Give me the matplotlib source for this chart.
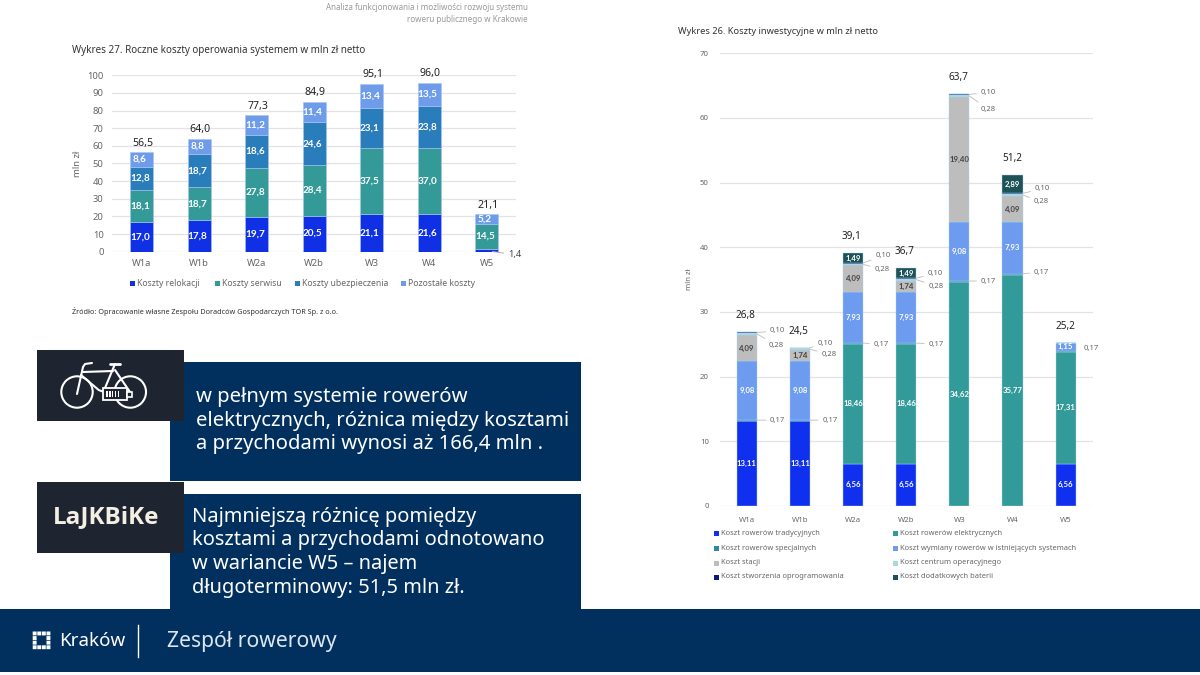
import matplotlib
matplotlib.use("Agg")
import matplotlib.pyplot as plt
import numpy as np
from matplotlib.patches import Rectangle, Circle

plt.rcParams['font.family'] = ['Noto Sans', 'DejaVu Sans']

W, H = 1200, 675

# 1. Operating costs (left chart)
variants = ['W1a', 'W1b', 'W2a', 'W2b', 'W3', 'W4', 'W5']
relokacja = [17.0, 17.8, 19.7, 20.5, 21.1, 21.6, 1.4]
serwis = [18.1, 18.7, 27.8, 28.4, 37.5, 37.0, 14.5]
ubezpieczenie = [12.8, 18.7, 18.6, 24.6, 23.1, 23.8, 0]
pozostale = [8.6, 8.8, 11.2, 11.4, 13.4, 13.5, 5.2]
oper_totals = ['56,5', '64,0', '77,3', '84,9', '95,1', '96,0', '21,1']
oper_names = ['Koszty relokacji', 'Koszty serwisu', 'Koszty ubezpieczenia', 'Pozostałe koszty']
oper_colors = ['#1030E6', '#339A98', '#2A7DBB', '#6E9CEB']

# 2. Investment costs (right chart)
tradycyjne = [13.11, 13.11, 6.56, 6.56, 0, 0, 6.56]
elektryczne = [0, 0, 18.46, 18.46, 34.62, 35.77, 17.31]
specjalne = [0.17, 0.17, 0.17, 0.17, 0.17, 0.17, 0.17]
wymiana = [9.08, 9.08, 7.93, 7.93, 9.08, 7.93, 1.15]
stacje = [4.09, 1.74, 4.09, 1.74, 19.40, 4.09, 0]
centrum = [0.28, 0.28, 0.28, 0.28, 0.28, 0.28, 0]
oprogramowanie = [0.10, 0.10, 0.10, 0.10, 0.10, 0.10, 0]
baterie = [0, 0, 1.49, 1.49, 0, 2.89, 0]
inv_totals = ['26,8', '24,5', '39,1', '36,7', '63,7', '51,2', '25,2']
inv_names = ['Koszt rowerów tradycyjnych', 'Koszt rowerów elektrycznych',
             'Koszt rowerów specjalnych', 'Koszt wymiany rowerów w istniejących systemach',
             'Koszt stacji', 'Koszt centrum operacyjnego',
             'Koszt stworzenia oprogramowania', 'Koszt dodatkowych baterii']
inv_colors = ['#1030F0', '#339A9A', '#2E86AB', '#6C9BEF', '#BDBDBD', '#A8DADC', '#0B1A78', '#1D5257']

fig = plt.figure(figsize=(W / 100, H / 100), dpi=100, facecolor='white')


def px_axes(left, top, right, bottom):
    return fig.add_axes([left / W, 1 - bottom / H, (right - left) / W, (bottom - top) / H])


def num(v):
    return f'{v:.2f}'.replace('.', ',')


# 3. Left chart
ax1 = px_axes(112, 75.3, 516, 251.7)
ax1.set_xlim(-0.517, 6.51)
ax1.set_ylim(0, 100)
bottom = np.zeros(7)
x = np.arange(7)
for vals, col in zip([relokacja, serwis, ubezpieczenie, pozostale], oper_colors):
    vals = np.array(vals)
    ax1.bar(x, vals, 0.405, bottom=bottom, color=col, zorder=3, edgecolor='#A9C4F0', linewidth=0.4)
    for i, v in enumerate(vals):
        if v >= 5:
            ax1.text(i - 0.03, bottom[i] + v / 2, f'{v:.1f}'.replace('.', ','), color='white',
                     fontsize=7.2, fontweight='bold', family='Lato', ha='center', va='center', zorder=4)
    bottom += vals
for i, t in enumerate(oper_totals):
    ax1.text(i + 0.02, bottom[i] + 2.0, t, fontsize=7.6, color='#222222', ha='center', va='bottom', zorder=4)
ax1.annotate('1,4', xy=(6.1, 0.1), xytext=(6.37, -1.7), fontsize=6.6, color='#444444', va='center', ha='left',
             annotation_clip=False, arrowprops=dict(arrowstyle='-', color='#C9A8C8', lw=0.7, shrinkA=1, shrinkB=0))
ax1.set_yticks(range(0, 101, 10))
ax1.set_xticks(x, variants)
ax1.tick_params(length=0, labelsize=6.8, labelcolor='#666666', pad=6)
ax1.tick_params(axis='x', pad=5)
ax1.grid(axis='y', color='#E3E3E6', lw=0.9, zorder=0)
ax1.set_axisbelow(True)
for s in ax1.spines.values():
    s.set_visible(False)
ax1.set_ylabel('mln zł', fontsize=6.8, color='#666666', labelpad=4)

# 4. Right chart
ax2 = px_axes(720, 53.3, 1092.7, 506)
ax2.set_xlim(-0.508, 6.51)
ax2.set_ylim(0, 70)
series = [tradycyjne, elektryczne, specjalne, wymiana, stacje, centrum, oprogramowanie, baterie]
bottom = np.zeros(7)
tops = {}
for k, (vals, col) in enumerate(zip(series, inv_colors)):
    vals = np.array(vals)
    ax2.bar(x, vals, 0.377, bottom=bottom, color=col, zorder=3, edgecolor='#A8D4EE', linewidth=0.3)
    tops[k] = bottom + vals
    for i, v in enumerate(vals):
        if v > 1:
            col_txt = '#444444' if k == 4 else 'white'
            ax2.text(i, bottom[i] + v / 2, num(v), color=col_txt, fontsize=5.6, fontweight='bold', family='Lato',
                     ha='center', va='center', zorder=4)
    bottom += vals
for i, t in enumerate(inv_totals):
    ax2.text(i - 0.03 + (0.02 if i > 3 else 0), bottom[i] + 1.7, t, fontsize=7.2, color='#222222',
             ha='center', va='bottom', zorder=4)

# small leader labels: offset from the bar edge in pixels (dx, dy)
off_010 = [(13, 1.5), (7, 4), (12, 7), (11, 4.5), (11, 2), (12, 4.5)]
off_028 = [(12, -11), (11, -5), (11, -4.7), (12, -6.5), (11, -13.3), (11, -7)]
off_017 = [(13, 0), (12, 0), (10, -1), (12, -1), (11, 0), (11, 1)]


def leader(i, y, dxdy, text):
    ax2.annotate(text, xy=(i + 0.19, y), xytext=(dxdy[0] * 0.72, dxdy[1] * 0.72), textcoords='offset points',
                 fontsize=5.5, color='#666666', ha='left', va='center', annotation_clip=False, zorder=5,
                 arrowprops=dict(arrowstyle='-', color='#BBBBBB', lw=0.6, shrinkA=1, shrinkB=0))


for i in range(6):
    leader(i, tops[6][i], off_010[i], num(oprogramowanie[i]))
    leader(i, tops[5][i] - centrum[i] / 2, off_028[i], num(centrum[i]))
    leader(i, tops[2][i], off_017[i], num(specjalne[i]))
ax2.text(6.34, tops[3][6] - 0.9, num(specjalne[6]), fontsize=5.5, color='#666666', va='center', zorder=5)

ax2.set_yticks(range(0, 71, 10))
ax2.set_xticks(x, variants)
ax2.tick_params(length=0, labelsize=5.6, labelcolor='#666666', pad=8)
ax2.grid(axis='y', color='#E3E3E6', lw=0.9, zorder=0)
ax2.set_axisbelow(True)
for s in ax2.spines.values():
    s.set_visible(False)
ax2.set_ylabel('mln zł', fontsize=5.6, color='#666666', labelpad=5)

# 5. Overlay in pixels for the slide furniture
ov = fig.add_axes([0, 0, 1, 1], zorder=10)
ov.set_xlim(0, W)
ov.set_ylim(H, 0)
ov.axis('off')

navy = '#02305E'
dark = '#1E2430'
cream = '#F3EFE2'
ov.add_patch(Rectangle((170, 362), 411, 119, color=navy, lw=0))
ov.add_patch(Rectangle((170, 494), 411, 116, color=navy, lw=0))
ov.add_patch(Rectangle((0, 609), W, 63, color=navy, lw=0))
ov.add_patch(Rectangle((37, 350), 147, 71, color=dark, lw=0))
ov.add_patch(Rectangle((37, 482), 147, 71, color=dark, lw=0))

# bike icon
bike_lw = 1.5
for cx in (77, 130.3):
    ov.add_patch(Circle((cx, 392), 15.7, fill=False, ec='white', lw=bike_lw))
ov.plot([77, 83, 85, 92], [394, 367, 364, 363], color='white', lw=bike_lw, solid_capstyle='round')
ov.plot([81, 98.7, 104], [375, 390, 392], color='white', lw=bike_lw, solid_capstyle='round')
ov.plot([83, 113], [372, 371], color='white', lw=bike_lw, solid_capstyle='round')
ov.plot([115, 105], [364, 388], color='white', lw=bike_lw, solid_capstyle='round')
ov.plot([115, 130], [370, 392], color='white', lw=bike_lw, solid_capstyle='round')
ov.plot([110, 120], [364.3, 364.3], color='white', lw=2, solid_capstyle='round')
ov.add_patch(Rectangle((102.7, 388), 24.5, 12, fc=dark, ec='white', lw=1.3, zorder=4))
ov.add_patch(Rectangle((127.2, 391.7), 5, 5, fc=dark, ec='white', lw=1.2, zorder=4))
for bx in np.arange(106, 120, 2.9):
    ov.add_patch(Rectangle((bx, 391), 1.6, 6, color='white', lw=0, zorder=5))

ov.text(106.5, 517, 'LaJKBiKe', color=cream, fontsize=17.5, fontweight='bold', ha='center', va='center',
        family='Open Sans')

# 6. Text
ov.text(528, 7, 'Analiza funkcjonowania i możliwości rozwoju systemu', fontsize=5.8, color='#9A9A9A', ha='right', va='center')
ov.text(528, 19, 'roweru publicznego w Krakowie', fontsize=5.8, color='#9A9A9A', ha='right', va='center')
ov.text(72, 50, 'Wykres 27. Roczne koszty operowania systemem w mln zł netto', fontsize=7.1, color='#333333', va='center')
ov.text(678, 31, 'Wykres 26. Koszty inwestycyjne w mln zł netto', fontsize=6.65, color='#333333', va='center')
ov.text(72, 311, 'Źródło: Opracowanie własne Zespołu Doradców Gospodarczych TOR Sp. z o.o.', fontsize=5.25, color='#333333', va='center')

for line, y in zip(['w pełnym systemie rowerów', 'elektrycznych, różnica między kosztami',
                    'a przychodami wynosi aż 166,4 mln .'], [397, 421, 444]):
    ov.text(196, y, line, color='white', fontsize=14.6, va='center')
for line, y in zip(['Najmniejszą różnicę pomiędzy', 'kosztami a przychodami odnotowano',
                    'w wariancie W5 – najem', 'długoterminowy: 51,5 mln zł.'], [517, 540, 564, 588]):
    ov.text(192, y, line, color='white', fontsize=14.4, va='center')

for gx in range(4):
    for gy in range(4):
        if not (gx in (1, 2) and gy in (1, 2)):
            ov.add_patch(Rectangle((32.7 + gx * 4.6, 631.5 + gy * 4.6), 3.9, 3.9, color='white', lw=0, snap=False))
ov.text(59, 641, 'Kraków', color='white', fontsize=13.5, va='center')
ov.plot([138, 138], [625, 657], color='white', lw=1)
ov.text(167, 641, 'Zespół rowerowy', color='#DCE6F0', fontsize=15.2, va='center', fontweight='light')

# 7. Legends
for name, col, sx in zip(oper_names, oper_colors, [132.7, 217.7, 297.7, 403.7]):
    ov.add_patch(Rectangle((sx - 2.5, 280.5), 5, 5, color=col, lw=0))
    ov.text(sx + 4.5, 283, name, fontsize=6.2, color='#666666', va='center')
rows = [533.7, 548, 563, 577]
for k, (name, col) in enumerate(zip(inv_names, inv_colors)):
    sx = 716.7 if k % 2 == 0 else 895.7
    y = rows[k // 2]
    ov.add_patch(Rectangle((sx - 2.5, y - 2.5), 5, 5, color=col, lw=0))
    ov.text(sx + 4.5, y, name, fontsize=5.4, color='#666666', va='center')

fig.savefig('out.png', dpi=100)
